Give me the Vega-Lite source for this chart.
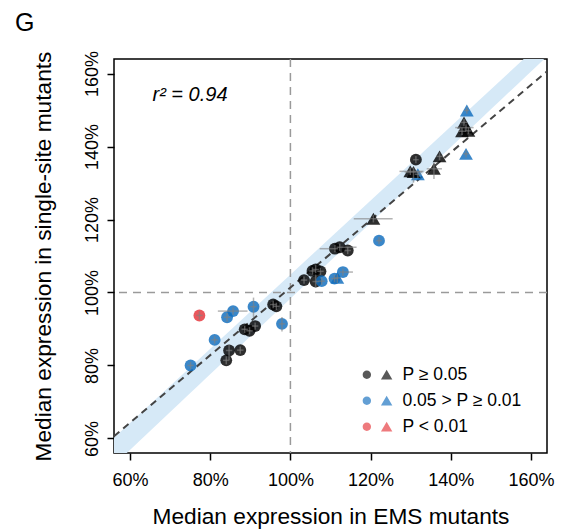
{
  "$schema": "https://vega.github.io/schema/vega-lite/v6.json",
  "width": 433,
  "height": 394,
  "autosize": {"type": "none"},
  "padding": {"left": 114, "top": 59, "right": 14, "bottom": 78},
  "title": {"text": "G", "anchor": "start", "frame": "group", "dx": -99, "offset": -5, "baseline": "alphabetic", "fontSize": 25, "fontWeight": "normal", "font": "Liberation Sans", "color": "black"},
  "config": {
    "font": "Liberation Sans",
    "view": {"stroke": "black", "strokeWidth": 1.5},
    "axis": {"grid": false, "domain": false, "tickColor": "black", "tickWidth": 1.5, "tickSize": 7, "labelColor": "black", "labelFontSize": 18, "titleFontSize": 22.7, "titleFontWeight": "normal", "titleColor": "black", "labelFont": "Liberation Sans", "titleFont": "Liberation Sans"}
  },
  "datasets": {
    "points": [
      {"x": 144.0, "y": 149.9, "xlo": 143.3, "xhi": 144.6, "ylo": 149.0, "yhi": 150.8, "sig": "0.05 > P ≥ 0.01", "shape": "triangle"},
      {"x": 143.3, "y": 146.6, "xlo": 142.5, "xhi": 144.1, "ylo": 145.6, "yhi": 147.6, "sig": "P ≥ 0.05", "shape": "triangle"},
      {"x": 143.8, "y": 145.2, "xlo": 141.1, "xhi": 145.7, "ylo": 144.3, "yhi": 146.1, "sig": "P ≥ 0.05", "shape": "triangle"},
      {"x": 142.8, "y": 144.2, "xlo": 141.8, "xhi": 143.8, "ylo": 143.2, "yhi": 145.2, "sig": "P ≥ 0.05", "shape": "triangle"},
      {"x": 144.4, "y": 144.3, "xlo": 143.6, "xhi": 145.2, "ylo": 143.4, "yhi": 145.2, "sig": "P ≥ 0.05", "shape": "triangle"},
      {"x": 143.8, "y": 138.0, "xlo": 143.1, "xhi": 144.5, "ylo": 137.0, "yhi": 139.0, "sig": "0.05 > P ≥ 0.01", "shape": "triangle"},
      {"x": 131.3, "y": 136.4, "xlo": 130.6, "xhi": 132.0, "ylo": 135.4, "yhi": 137.4, "sig": "P ≥ 0.05", "shape": "circle"},
      {"x": 137.2, "y": 137.3, "xlo": 136.4, "xhi": 138.0, "ylo": 136.2, "yhi": 138.4, "sig": "P ≥ 0.05", "shape": "triangle"},
      {"x": 131.8, "y": 132.4, "xlo": 131.0, "xhi": 132.6, "ylo": 131.4, "yhi": 133.4, "sig": "0.05 > P ≥ 0.01", "shape": "triangle"},
      {"x": 130.7, "y": 133.0, "xlo": 128.5, "xhi": 132.9, "ylo": 130.1, "yhi": 134.2, "sig": "P ≥ 0.05", "shape": "triangle"},
      {"x": 129.9, "y": 133.2, "xlo": 127.2, "xhi": 133.2, "ylo": 132.2, "yhi": 134.2, "sig": "P ≥ 0.05", "shape": "triangle"},
      {"x": 135.8, "y": 133.9, "xlo": 134.0, "xhi": 137.8, "ylo": 131.1, "yhi": 135.5, "sig": "P ≥ 0.05", "shape": "triangle"},
      {"x": 120.7, "y": 120.2, "xlo": 115.8, "xhi": 125.5, "ylo": 119.2, "yhi": 121.2, "sig": "P ≥ 0.05", "shape": "triangle"},
      {"x": 122.1, "y": 114.2, "xlo": 121.4, "xhi": 122.8, "ylo": 113.2, "yhi": 115.2, "sig": "0.05 > P ≥ 0.01", "shape": "circle"},
      {"x": 111.1, "y": 112.0, "xlo": 107.3, "xhi": 111.9, "ylo": 111.0, "yhi": 113.0, "sig": "P ≥ 0.05", "shape": "circle"},
      {"x": 112.3, "y": 112.4, "xlo": 111.5, "xhi": 116.5, "ylo": 111.4, "yhi": 113.4, "sig": "P ≥ 0.05", "shape": "circle"},
      {"x": 114.3, "y": 111.5, "xlo": 113.5, "xhi": 115.1, "ylo": 110.5, "yhi": 112.5, "sig": "P ≥ 0.05", "shape": "circle"},
      {"x": 106.3, "y": 106.3, "xlo": 105.5, "xhi": 107.1, "ylo": 105.3, "yhi": 107.5, "sig": "P ≥ 0.05", "shape": "circle"},
      {"x": 107.5, "y": 105.8, "xlo": 106.7, "xhi": 108.3, "ylo": 104.8, "yhi": 106.8, "sig": "P ≥ 0.05", "shape": "circle"},
      {"x": 105.5, "y": 105.9, "xlo": 104.7, "xhi": 106.3, "ylo": 104.9, "yhi": 106.9, "sig": "P ≥ 0.05", "shape": "circle"},
      {"x": 103.4, "y": 103.4, "xlo": 102.6, "xhi": 104.2, "ylo": 102.4, "yhi": 104.4, "sig": "P ≥ 0.05", "shape": "circle"},
      {"x": 106.3, "y": 103.0, "xlo": 105.5, "xhi": 107.1, "ylo": 101.3, "yhi": 104.9, "sig": "P ≥ 0.05", "shape": "circle"},
      {"x": 107.8, "y": 103.1, "xlo": 107.0, "xhi": 108.6, "ylo": 102.1, "yhi": 104.1, "sig": "0.05 > P ≥ 0.01", "shape": "circle"},
      {"x": 111.0, "y": 103.8, "xlo": 110.2, "xhi": 111.8, "ylo": 102.8, "yhi": 104.8, "sig": "0.05 > P ≥ 0.01", "shape": "circle"},
      {"x": 113.1, "y": 105.6, "xlo": 112.3, "xhi": 115.6, "ylo": 104.6, "yhi": 106.6, "sig": "0.05 > P ≥ 0.01", "shape": "circle"},
      {"x": 111.7, "y": 104.0, "xlo": 110.9, "xhi": 112.5, "ylo": 102.6, "yhi": 105.0, "sig": "0.05 > P ≥ 0.01", "shape": "triangle"},
      {"x": 95.7, "y": 96.7, "xlo": 94.9, "xhi": 96.5, "ylo": 95.7, "yhi": 97.7, "sig": "P ≥ 0.05", "shape": "circle"},
      {"x": 96.5, "y": 96.2, "xlo": 95.7, "xhi": 97.3, "ylo": 95.2, "yhi": 97.2, "sig": "P ≥ 0.05", "shape": "circle"},
      {"x": 90.8, "y": 96.1, "xlo": 90.0, "xhi": 91.6, "ylo": 93.3, "yhi": 98.6, "sig": "0.05 > P ≥ 0.01", "shape": "circle"},
      {"x": 85.7, "y": 94.9, "xlo": 81.9, "xhi": 89.3, "ylo": 93.9, "yhi": 95.9, "sig": "0.05 > P ≥ 0.01", "shape": "circle"},
      {"x": 84.2, "y": 93.2, "xlo": 83.4, "xhi": 85.0, "ylo": 92.0, "yhi": 94.4, "sig": "0.05 > P ≥ 0.01", "shape": "circle"},
      {"x": 77.3, "y": 93.7, "xlo": 76.5, "xhi": 78.1, "ylo": 92.5, "yhi": 94.9, "sig": "P < 0.01", "shape": "circle"},
      {"x": 97.9, "y": 91.4, "xlo": 97.1, "xhi": 98.7, "ylo": 89.3, "yhi": 93.3, "sig": "0.05 > P ≥ 0.01", "shape": "circle"},
      {"x": 88.6, "y": 89.9, "xlo": 87.8, "xhi": 89.4, "ylo": 88.9, "yhi": 90.9, "sig": "P ≥ 0.05", "shape": "circle"},
      {"x": 89.8, "y": 89.5, "xlo": 89.0, "xhi": 90.6, "ylo": 88.5, "yhi": 90.5, "sig": "P ≥ 0.05", "shape": "circle"},
      {"x": 91.2, "y": 90.8, "xlo": 90.4, "xhi": 92.0, "ylo": 89.8, "yhi": 91.8, "sig": "P ≥ 0.05", "shape": "circle"},
      {"x": 81.1, "y": 87.0, "xlo": 80.3, "xhi": 81.9, "ylo": 86.0, "yhi": 88.0, "sig": "0.05 > P ≥ 0.01", "shape": "circle"},
      {"x": 84.7, "y": 84.1, "xlo": 83.9, "xhi": 85.5, "ylo": 81.5, "yhi": 85.6, "sig": "P ≥ 0.05", "shape": "circle"},
      {"x": 87.5, "y": 84.2, "xlo": 86.7, "xhi": 88.3, "ylo": 83.2, "yhi": 85.2, "sig": "P ≥ 0.05", "shape": "circle"},
      {"x": 84.0, "y": 81.4, "xlo": 83.2, "xhi": 84.8, "ylo": 80.3, "yhi": 82.5, "sig": "P ≥ 0.05", "shape": "circle"},
      {"x": 75.1, "y": 80.0, "xlo": 74.3, "xhi": 75.9, "ylo": 79.0, "yhi": 81.0, "sig": "0.05 > P ≥ 0.01", "shape": "circle"}
    ],
    "band": [
      {"bx": 56, "lo": 52.7, "hi": 60.2},
      {"bx": 164, "lo": 164.7, "hi": 169.9}
    ],
    "fit": [
      {"fx": 56, "fy": 60.6},
      {"fx": 164, "fy": 160.6}
    ],
    "one": [{}]
  },
  "layer": [
    {
      "data": {"name": "band"},
      "mark": {"type": "area", "color": "#d6e9f7", "clip": true, "opacity": 1},
      "encoding": {
        "x": {"field": "bx", "type": "quantitative", "scale": {"domain": [56, 164], "nice": false, "zero": false},
          "axis": {"values": [60, 80, 100, 120, 140, 160], "labelExpr": "datum.value + '%'", "title": "Median expression in EMS mutants", "labelPadding": 11, "titlePadding": 16}},
        "y": {"field": "lo", "type": "quantitative", "scale": {"domain": [56, 164], "nice": false, "zero": false},
          "axis": {"values": [60, 80, 100, 120, 140, 160], "labelExpr": "datum.value + '%'", "title": "Median expression in single-site mutants", "labelAngle": -90, "labelAlign": "center", "labelBaseline": "alphabetic", "labelPadding": 10, "titlePadding": 28}},
        "y2": {"field": "hi"}
      }
    },
    {
      "data": {"name": "one"},
      "mark": {"type": "rule", "color": "#9a9a9a", "strokeWidth": 1.5, "strokeDash": [8, 6]},
      "encoding": {"x": {"datum": 100, "type": "quantitative"}}
    },
    {
      "data": {"name": "one"},
      "mark": {"type": "rule", "color": "#9a9a9a", "strokeWidth": 1.5, "strokeDash": [8, 6]},
      "encoding": {"y": {"datum": 100, "type": "quantitative"}}
    },
    {
      "data": {"name": "fit"},
      "mark": {"type": "line", "color": "#444444", "strokeWidth": 2, "strokeDash": [7, 5], "clip": true},
      "encoding": {
        "x": {"field": "fx", "type": "quantitative"},
        "y": {"field": "fy", "type": "quantitative"}
      }
    },
    {
      "data": {"name": "points"},
      "mark": {"type": "point", "filled": true, "opacity": 0.82, "strokeWidth": 0},
      "encoding": {
        "x": {"field": "x", "type": "quantitative"},
        "y": {"field": "y", "type": "quantitative"},
        "color": {"field": "sig", "type": "nominal",
          "scale": {"domain": ["P ≥ 0.05", "0.05 > P ≥ 0.01", "P < 0.01"], "range": ["#000000", "#0f6cbd", "#e53238"]},
          "legend": {"orient": "none", "legendX": 254, "legendY": 307, "title": null, "padding": 0,
            "symbolType": "M-2.35,0A0.7,0.7,0,1,0,-0.95,0A0.7,0.7,0,1,0,-2.35,0ZM1.65,-0.85L2.6,0.8L0.7,0.8Z",
            "symbolSize": 144, "symbolOpacity": 0.65, "symbolStrokeWidth": 0,
            "labelFontSize": 17.5, "labelOffset": 17, "rowPadding": 7, "labelColor": "black", "labelFont": "Liberation Sans"}},
        "shape": {"field": "shape", "type": "nominal", "scale": {"domain": ["circle", "triangle"], "range": ["circle", "triangle-up"]}, "legend": null},
        "size": {"field": "shape", "type": "ordinal", "scale": {"domain": ["circle", "triangle"], "range": [140, 190]}, "legend": null}
      }
    },
    {
      "data": {"name": "points"},
      "mark": {"type": "rule", "color": "#808080", "opacity": 0.6, "strokeWidth": 1.5},
      "encoding": {
        "x": {"field": "xlo", "type": "quantitative"},
        "x2": {"field": "xhi"},
        "y": {"field": "y", "type": "quantitative"}
      }
    },
    {
      "data": {"name": "points"},
      "mark": {"type": "rule", "color": "#808080", "opacity": 0.6, "strokeWidth": 1.5},
      "encoding": {
        "x": {"field": "x", "type": "quantitative"},
        "y": {"field": "ylo", "type": "quantitative"},
        "y2": {"field": "yhi"}
      }
    },
    {
      "data": {"name": "one"},
      "mark": {"type": "text", "text": "r² = 0.94", "align": "left", "baseline": "alphabetic", "fontStyle": "italic", "fontSize": 20, "color": "black", "font": "Liberation Sans"},
      "encoding": {
        "x": {"datum": 65.6, "type": "quantitative"},
        "y": {"datum": 152.4, "type": "quantitative"}
      }
    }
  ]
}
